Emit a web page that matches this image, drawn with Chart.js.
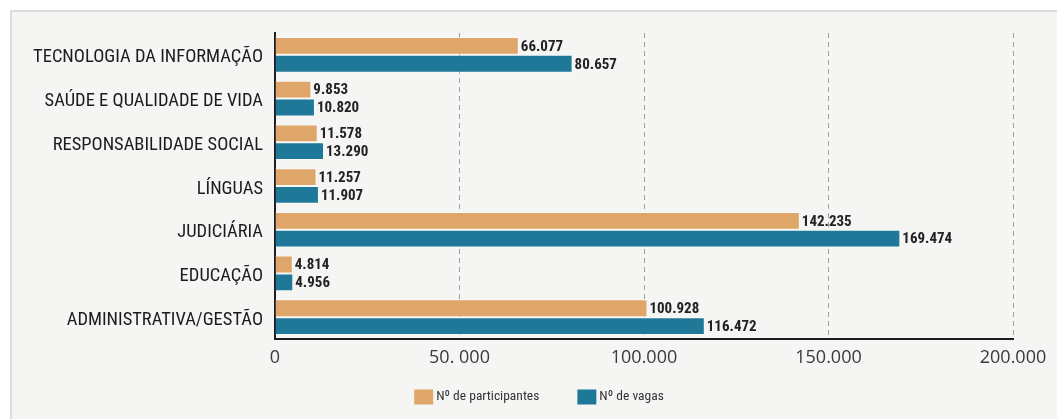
<!DOCTYPE html>
<html><head><meta charset="utf-8">
<script src="https://cdn.jsdelivr.net/npm/chart.js@4.4.1/dist/chart.umd.min.js"></script>
<style>
html,body{margin:0;padding:0;background:#fff;}
#panel{position:absolute;left:10px;top:10px;width:1047px;height:409px;background:#f5f5f4;border-left:2px solid #dcdcdc;border-top:2px solid #dcdcdc;box-sizing:border-box;}
#wrap{position:absolute;left:0;top:0;width:1057px;height:419px;}
</style></head>
<body>
<div id="panel"></div>
<div id="wrap"><canvas id="c" width="1057" height="419"></canvas></div>
<script>
const categories = ["TECNOLOGIA DA INFORMAÇÃO","SAÚDE E QUALIDADE DE VIDA","RESPONSABILIDADE SOCIAL","LÍNGUAS","JUDICIÁRIA","EDUCAÇÃO","ADMINISTRATIVA/GESTÃO"];
const participantes = [66077, 9853, 11578, 11257, 142235, 4814, 100928];
const vagas = [80657, 10820, 13290, 11907, 169474, 4956, 116472];
const seriesNames = ["Nº de participantes","Nº de vagas"];
const tickLabels = ["0","50. 000","100.000","150.000","200.000"];

const COND = '"Roboto Condensed","DejaVu Sans Condensed",sans-serif';

function fmt(v){ return String(v).replace(/\B(?=(\d{3})+(?!\d))/g, "."); }

const labelPlugin = {
  id:'vals',
  afterDatasetsDraw(chart){
    const ctx = chart.ctx;
    ctx.save();
    ctx.font = 'bold 15px ' + COND;
    ctx.fillStyle = '#222';
    ctx.textAlign = 'left';
    ctx.textBaseline = 'middle';
    chart.data.datasets.forEach((ds, di) => {
      const meta = chart.getDatasetMeta(di);
      meta.data.forEach((bar, i) => {
        ctx.fillText(fmt(ds.data[i]), bar.x + 2, bar.y + 1);
      });
    });
    ctx.restore();
  }
};

const legendPlugin = {
  id:'customLegend',
  afterDraw(chart){
    const ctx = chart.ctx;
    const cx = 539, cy = 397, bw = 19, bh = 15, gapText = 3, gapItem = 38;
    ctx.save();
    ctx.font = '13.5px ' + COND;
    ctx.textBaseline = 'middle';
    ctx.textAlign = 'left';
    const items = chart.data.datasets.map(ds => ({label: ds.label, color: ds.backgroundColor, w: ctx.measureText(ds.label).width}));
    let total = items.reduce((s, it) => s + bw + gapText + it.w, 0) + gapItem * (items.length - 1);
    let x = cx - total / 2;
    items.forEach(it => {
      ctx.fillStyle = it.color;
      ctx.fillRect(x, cy - bh / 2, bw, bh);
      ctx.fillStyle = '#333';
      ctx.fillText(it.label, x + bw + gapText, cy);
      x += bw + gapText + it.w + gapItem;
    });
    ctx.restore();
  }
};

new Chart(document.getElementById('c'), {
  type:'bar',
  data:{
    labels: categories,
    datasets:[
      {label:seriesNames[0], data:participantes, backgroundColor:'#dfa66a', borderColor:'rgba(255,255,255,0.5)', borderWidth:1, categoryPercentage:0.815, barPercentage:1.0},
      {label:seriesNames[1], data:vagas, backgroundColor:'#1f7898', borderColor:'rgba(255,255,255,0.5)', borderWidth:1, categoryPercentage:0.815, barPercentage:1.0}
    ]
  },
  options:{
    indexAxis:'y',
    responsive:false,
    animation:false,
    devicePixelRatio:1,
    layout:{padding:{left:0, right:44, top:33, bottom:0}},
    scales:{
      x:{
        min:0, max:200000,
        z:1,
        ticks:{stepSize:50000, padding:8, color:'#3a3a3a', font:{family:'"Open Sans",sans-serif', size:18},
          callback:(v,i)=>tickLabels[i]},
        grid:{color:'#a0a0a0', lineWidth:1, drawTicks:false},
        border:{display:true, color:'#1e1e1e', width:2, dash:[5,4]},
        afterFit:(s)=>{s.height=80;}
      },
      y:{
        ticks:{padding:12, labelOffset:3, color:'#1c1c1c', font:{family:COND, size:18.5}},
        grid:{display:false, drawTicks:false},
        border:{display:true, color:'#1e1e1e', width:2},
        afterFit:(s)=>{s.width=275;}
      }
    },
    plugins:{
      legend:{display:false},
      tooltip:{enabled:false}
    }
  },
  plugins:[labelPlugin, legendPlugin]
});
</script>
</body></html>
